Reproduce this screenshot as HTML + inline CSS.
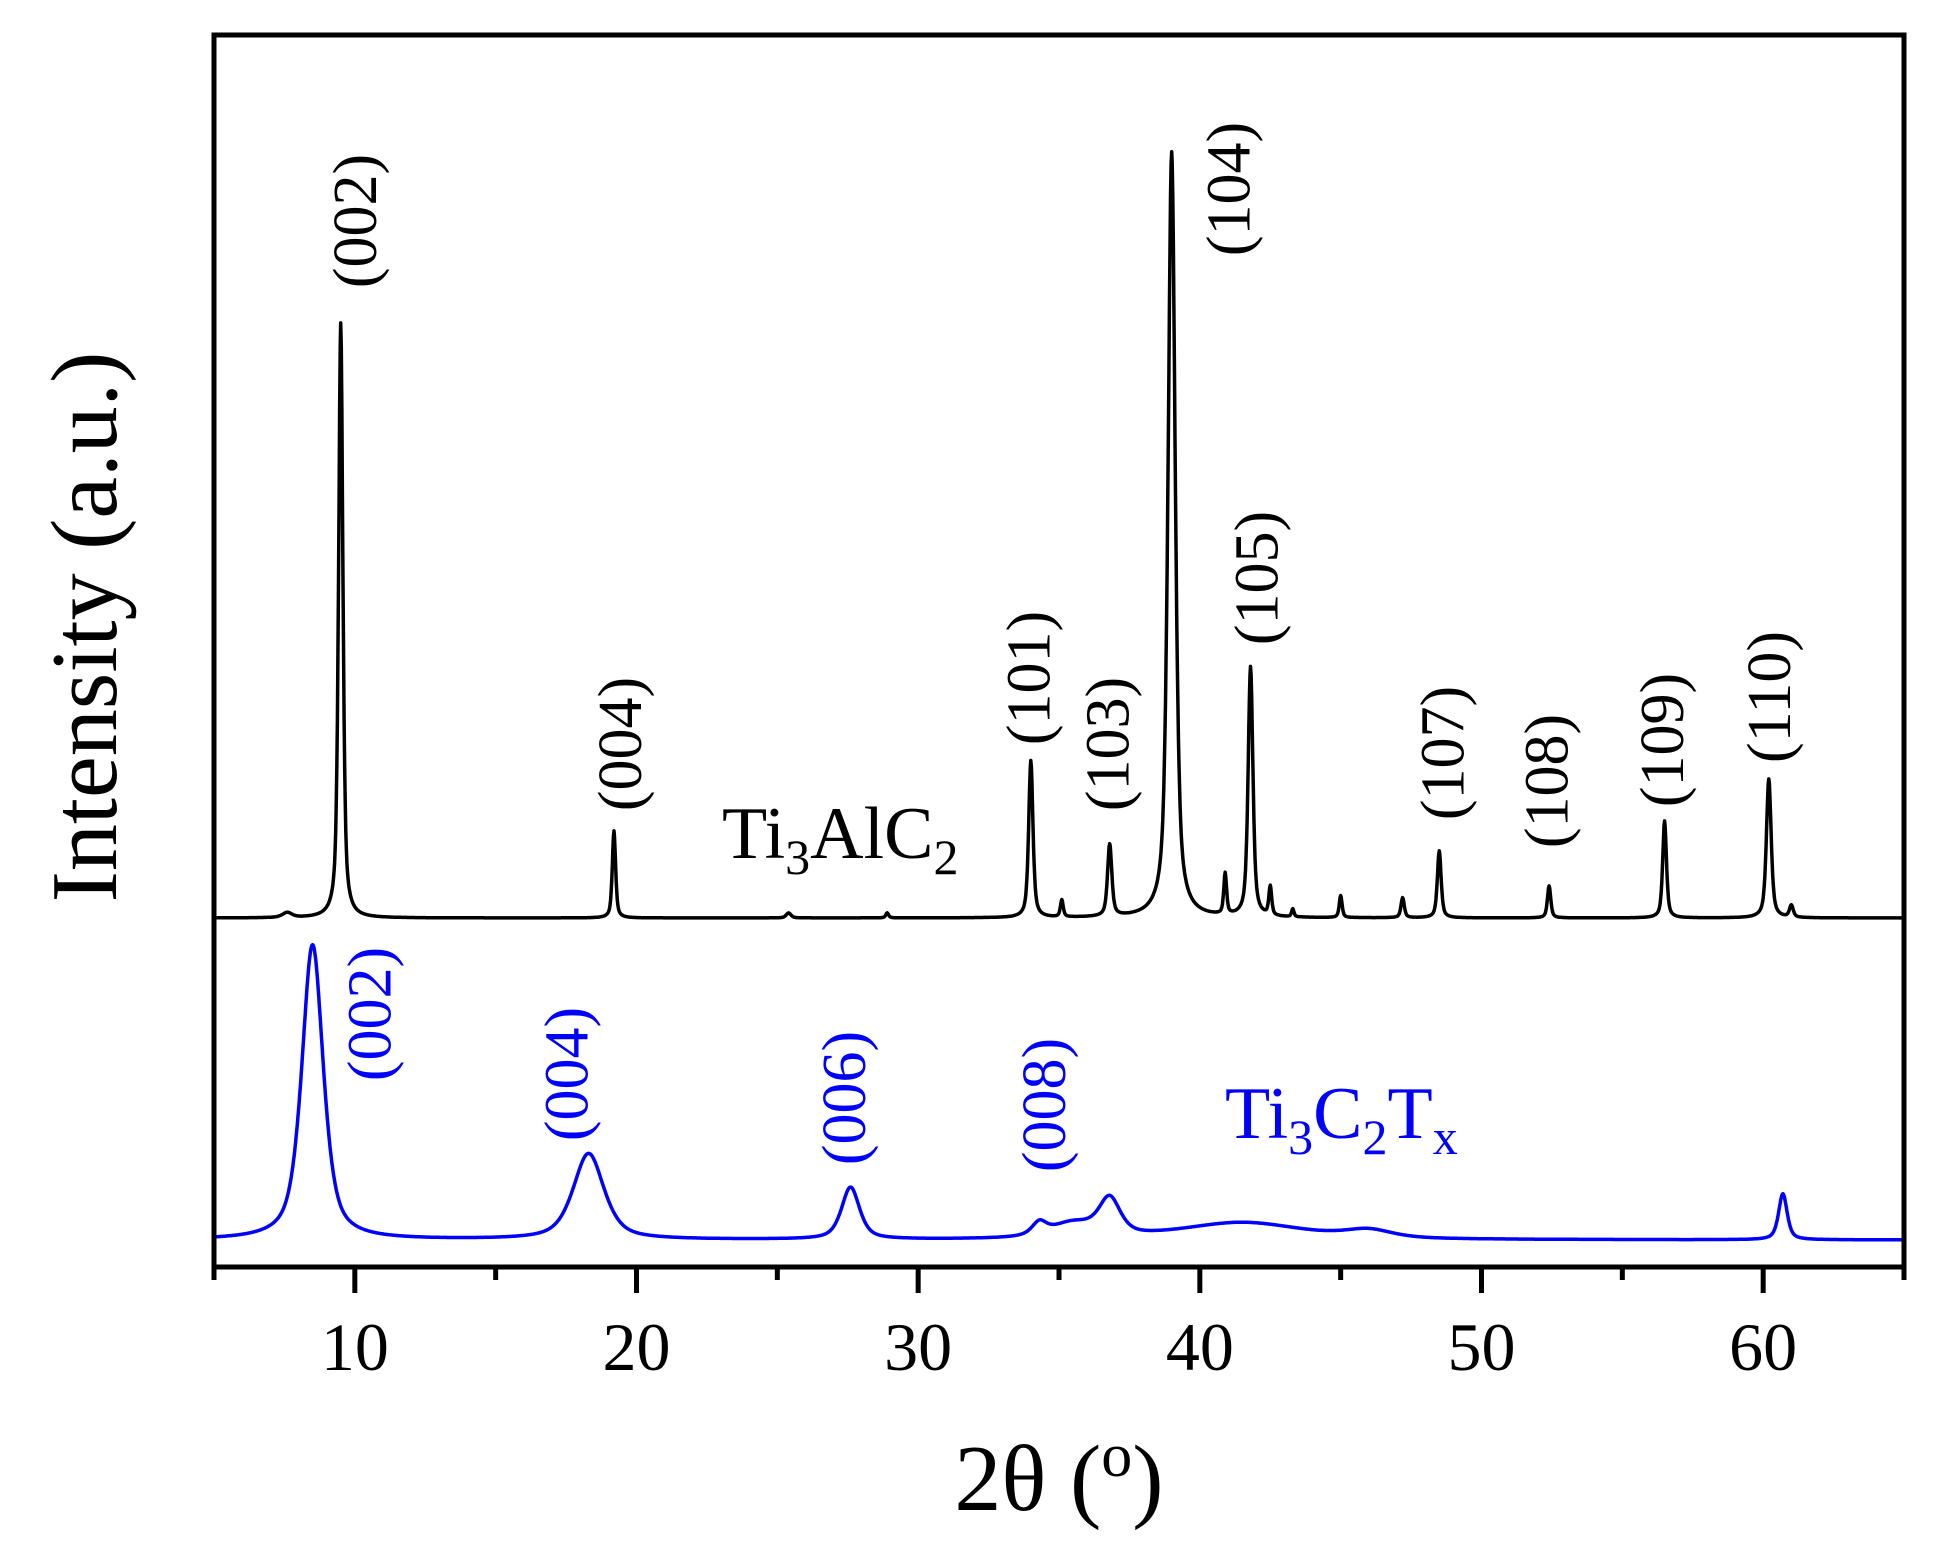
<!DOCTYPE html>
<html><head><meta charset="utf-8"><style>
html,body{margin:0;padding:0;background:#fff}
svg{display:block}
text{font-family:"Liberation Serif",serif}
</style></head><body>
<svg id="chart" width="1941" height="1566" viewBox="0 0 1941 1566" xmlns="http://www.w3.org/2000/svg">
<g id="plot"></g>
</svg>
<script>
// ---- data ----
const xTicks = [10, 20, 30, 40, 50, 60];
const xMinorTicks = [5, 15, 25, 35, 45, 55, 65];
// Ti3AlC2 peaks: position (2θ), height (a.u.), width (deg)
const maxPos = [9.5, 19.2, 34.0, 35.1, 36.8, 39.0, 40.9, 41.8, 42.5, 43.3, 45.0, 47.2, 48.5, 52.4, 56.5, 60.2, 61.0, 7.6, 25.4, 28.9];
const maxHeight = [595, 87, 157, 17, 72, 766, 41, 250, 29, 8, 22, 20, 67, 32, 97, 139, 12, 5, 5, 5];
const maxWidth = [0.09, 0.07, 0.09, 0.06, 0.09, 0.15, 0.06, 0.1, 0.06, 0.05, 0.06, 0.07, 0.08, 0.07, 0.08, 0.1, 0.08, 0.2, 0.1, 0.06];
// Ti3C2Tx peaks
const mxPos = [8.5, 18.3, 27.6, 34.3, 36.8, 41.5, 46.0, 60.7, 35.5];
const mxHeight = [295, 86, 52, 12, 36, 17, 8, 46, 15];
const mxWidth = [0.45, 0.65, 0.38, 0.3, 0.45, 2.6, 1.0, 0.18, 1.0];
const maxLabels = ["(002)","(004)","(101)","(103)","(104)","(105)","(107)","(108)","(109)","(110)"];
const maxLabelX = [10.05, 19.45, 33.95, 36.75, 41.05, 42.05, 48.65, 52.35, 56.45, 60.25];
const maxLabelH = [697, 174, 240, 174, 729, 340, 165, 137, 178, 221];
const mxLabels = ["(002)","(004)","(006)","(008)"];
const mxLabelX = [10.55, 17.55, 27.4, 34.5];
const mxLabelH = [226, 166, 142, 135];

// ---- axes ----
const L = 214, R = 1904, T = 35, B = 1267;
const xMin = 5, xMax = 65;
const baseMax = 918, baseMx = 1240;
const xs = v => L + (v - xMin) / (xMax - xMin) * (R - L);
const ys = (v, base) => base - v;
const NS = "http://www.w3.org/2000/svg";
const plot = document.getElementById('plot');
function mk(tag, attrs, parent) {
  const e = document.createElementNS(NS, tag);
  for (const k in attrs) e.setAttribute(k, attrs[k]);
  (parent || plot).appendChild(e);
  return e;
}
function profile(pos, h, w, x) {
  let s = 0;
  for (let i = 0; i < pos.length; i++) {
    const d = (x - pos[i]) / w[i];
    s += h[i] * (0.6 / (1 + d * d) + 0.4 * Math.exp(-0.693 * d * d));
  }
  return s;
}
function series(pos, h, w, base, color, name) {
  let d = "";
  for (let x = xMin; x <= xMax + 1e-9; x += 0.02) {
    const y = ys(profile(pos, h, w, x), base);
    d += (d ? "L" : "M") + xs(x).toFixed(1) + "," + y.toFixed(1);
  }
  const p = mk('path', {d: d, fill: 'none', stroke: color, 'stroke-width': 3.5, 'stroke-linejoin': 'round'});
  
  
}
series(maxPos, maxHeight, maxWidth, baseMax, '#000', 'ti3alc2-series');
series(mxPos, mxHeight, mxWidth, baseMx, '#0000ff', 'ti3c2tx-series');

// frame
const frame = mk('rect', {x: L, y: T, width: R - L, height: B - T, fill: 'none', stroke: '#000', 'stroke-width': 5});


xTicks.forEach(v => {
  const t = mk('line', {x1: xs(v), x2: xs(v), y1: B, y2: B + 26, stroke: '#000', 'stroke-width': 5});
  
  
  const lb = mk('text', {x: xs(v), y: 1370, 'font-size': 68, 'text-anchor': 'middle', 'font-family': 'Liberation Serif, serif'});
  lb.textContent = v;
  
  
});
xMinorTicks.forEach(v => {
  const t = mk('line', {x1: xs(v), x2: xs(v), y1: B, y2: B + 13, stroke: '#000', 'stroke-width': 5});
  
  
});

// peak labels
function rlabel(txt, x, h, base, color, name) {
  const cx = xs(x), cy = ys(h, base);
  const t = mk('text', {x: cx, y: cy, 'font-size': 62, 'font-family': 'Liberation Serif, serif', 'text-anchor': 'middle', 'dominant-baseline': 'central', fill: color, transform: `rotate(-90 ${cx} ${cy})`});
  t.textContent = txt;
  
  
}
maxLabels.forEach((s, i) => rlabel(s, maxLabelX[i], maxLabelH[i], baseMax, '#000', 'ti3alc2-peak-label'));
mxLabels.forEach((s, i) => rlabel(s, mxLabelX[i], mxLabelH[i], baseMx, '#0000ff', 'ti3c2tx-peak-label'));
</script>
<svg style="position:absolute;left:0;top:0" width="1941" height="1566">
<text x="722" y="858" font-size="74" font-family="Liberation Serif, serif">Ti<tspan font-size="50" dy="16">3</tspan><tspan dy="-16">AlC</tspan><tspan font-size="50" dy="16">2</tspan></text>
<text x="1225" y="1138" font-size="74" font-family="Liberation Serif, serif" fill="#0000ff">Ti<tspan font-size="50" dy="16">3</tspan><tspan dy="-16">C</tspan><tspan font-size="50" dy="16">2</tspan><tspan dy="-16">T</tspan><tspan font-size="50" dy="16">x</tspan></text>
<text x="1059" y="1510" font-size="94" font-family="Liberation Serif, serif" text-anchor="middle">2θ (<tspan font-size="62" dy="-34">o</tspan><tspan dy="34">)</tspan></text>
<text x="0" y="0" font-size="94" font-family="Liberation Serif, serif" text-anchor="middle" transform="translate(116 627) rotate(-90)">Intensity (a.u.)</text>
</svg>
</body></html>
